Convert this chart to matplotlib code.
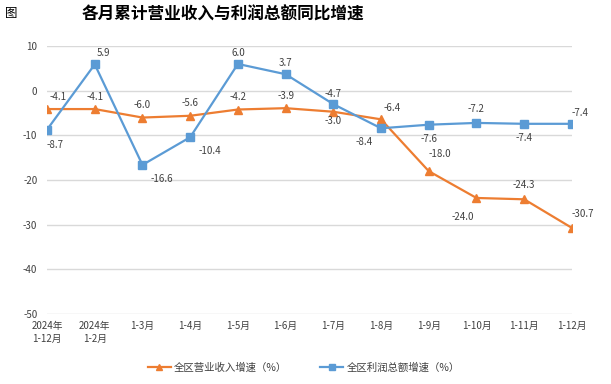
import matplotlib
matplotlib.use("Agg")
import matplotlib.pyplot as plt
from matplotlib.lines import Line2D

plt.rcParams["font.family"] = ["Noto Sans CJK SC", "DejaVu Sans"]
plt.rcParams["axes.unicode_minus"] = False

# 数据
months = ["2024年\n1-12月", "2024年\n1-2月", "1-3月", "1-4月", "1-5月", "1-6月",
          "1-7月", "1-8月", "1-9月", "1-10月", "1-11月", "1-12月"]
revenue = [-4.1, -4.1, -6.0, -5.6, -4.2, -3.9, -4.7, -6.4, -18.0, -24.0, -24.3, -30.7]
profit = [-8.7, 5.9, -16.6, -10.4, 6.0, 3.7, -3.0, -8.4, -7.6, -7.2, -7.4, -7.4]
yticks = [10, 0, -10, -20, -30, -40, -50]

ORANGE = "#ED7D31"
BLUE = "#5B9BD5"
TXT = "#404040"

# 数据标签偏移（像素点）
rev_off = [(8, 9), (0, 9), (0, 9), (0, 9), (0, 9), (0, 9),
           (0, 13), (8, 8), (8, 12), (-10, -14), (0, 10), (8, 10)]
prof_off = [(6, -11), (6, 8), (14, -10), (14, -10), (0, 8), (0, 8),
            (0, -12), (-12, -10), (0, -10), (0, 10), (0, -10), (6, 8)]

fig = plt.figure(figsize=(6.11, 3.84), dpi=100)
ax = fig.add_axes([0.077, 0.182, 0.859, 0.698])

x = list(range(len(months)))
ax.plot(x, revenue, color=ORANGE, lw=1.6, marker="^", ms=5.5, zorder=3)
ax.plot(x, profit, color=BLUE, lw=1.6, marker="s", ms=5.5, zorder=3)

for i, v in enumerate(revenue):
    ax.annotate(f"{v:.1f}", (i, v), xytext=rev_off[i], textcoords="offset points",
                ha="center", va="center", fontsize=7, color=TXT)
for i, v in enumerate(profit):
    ax.annotate(f"{v:.1f}", (i, v), xytext=prof_off[i], textcoords="offset points",
                ha="center", va="center", fontsize=7, color=TXT)

ax.set_xlim(0, len(months) - 1)
ax.set_ylim(-50, 10)
ax.set_yticks(yticks)
ax.set_xticks(x)
ax.set_xticklabels(months, fontsize=7, color=TXT, linespacing=1.3)
ax.tick_params(axis="y", labelsize=7, labelcolor=TXT, length=0, pad=7)
ax.tick_params(axis="x", length=0, pad=5)
ax.grid(axis="y", color="#d9d9d9", lw=1.0)
ax.set_axisbelow(True)
for s in ax.spines.values():
    s.set_visible(False)

fig.text(0.008, 0.965, "图", fontsize=9, ha="left", va="center")
fig.text(0.365, 0.962, "各月累计营业收入与利润总额同比增速", fontsize=12,
         fontweight="bold", ha="center", va="center")

handles = [
    Line2D([], [], color=ORANGE, lw=1.6, marker="^", ms=5),
    Line2D([], [], color=BLUE, lw=1.6, marker="s", ms=5),
]
fig.legend(handles, ["全区营业收入增速（%）", "全区利润总额增速（%）"],
           loc="center", bbox_to_anchor=(0.497, 0.042), ncol=2, frameon=False,
           fontsize=7.5, handlelength=2.2, columnspacing=3.2, handletextpad=0.3,
           labelcolor=TXT)

fig.savefig("out.png", dpi=100)
